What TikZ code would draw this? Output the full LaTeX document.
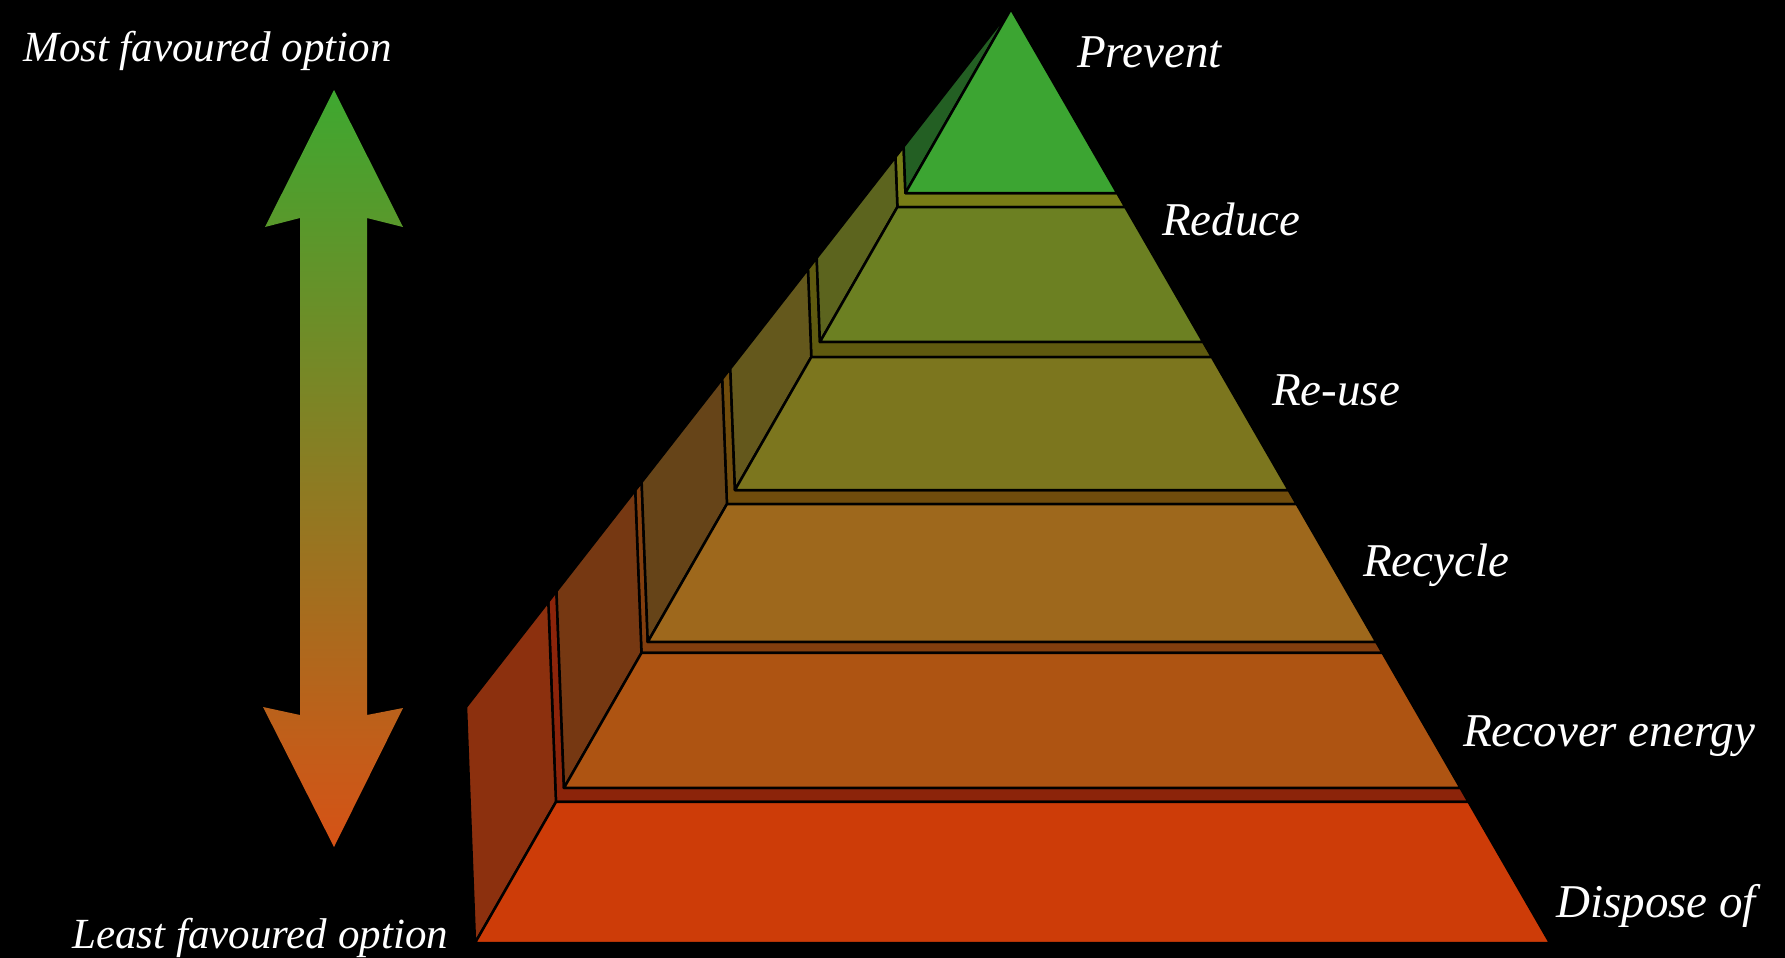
\documentclass[tikz,border=0pt]{standalone}
\usepackage{fontspec}
\setmainfont{Liberation Serif}
\usetikzlibrary{calc}
\definecolor{f0}{RGB}{60,165,50}
\definecolor{f1}{RGB}{108,128,34}
\definecolor{f2}{RGB}{124,118,30}
\definecolor{f3}{RGB}{158,104,28}
\definecolor{f4}{RGB}{174,84,18}
\definecolor{f5}{RGB}{205,60,8}
\definecolor{s0}{RGB}{35,95,35}
\definecolor{s1}{RGB}{92,100,30}
\definecolor{s2}{RGB}{100,88,28}
\definecolor{s3}{RGB}{102,68,24}
\definecolor{s4}{RGB}{118,56,18}
\definecolor{s5}{RGB}{140,48,14}
\definecolor{g1}{RGB}{120,125,22}
\definecolor{g2}{RGB}{95,90,15}
\definecolor{g3}{RGB}{112,76,12}
\definecolor{g4}{RGB}{130,62,14}
\definecolor{g5}{RGB}{140,36,10}
\definecolor{arrtop}{RGB}{62,168,48}
\definecolor{arrmid}{RGB}{140,118,42}
\definecolor{arrbot}{RGB}{214,82,22}
\tikzset{
  face/.style={draw=black, line width=2.5pt, line join=round},
  lbl/.style={text=white, inner sep=0pt, anchor=base west, font=\fontsize{47}{56}\selectfont\itshape},
  sidelbl/.style={text=white, inner sep=0pt, anchor=base west, font=\fontsize{43}{52}\selectfont\itshape}
}
\begin{document}
\begin{tikzpicture}[x=1pt,y=-1pt]
\fill[black] (0,0) rectangle (1785,958);
\useasboundingbox (0,0) rectangle (1785,958);
% pyramid key points
\coordinate (A) at (1011,9);
\coordinate (F) at (475,943);
\coordinate (B) at (466,707);
\coordinate (R) at (1550,943);
\foreach \n/\t in {0/0,1/0.197,2/0.212,3/0.3565,4/0.3726,5/0.515,6/0.530,7/0.6777,8/0.6895,9/0.834,10/0.849,11/1}{
  \coordinate (F\n) at ($(A)!\t!(F)$);
  \coordinate (B\n) at ($(A)!\t!(B)$);
  \coordinate (R\n) at ($(A)!\t!(R)$);
}
% gaps (top faces of lower layers)
\filldraw[face, fill=g1] (B1)--(B2)--(F2)--(R2)--(R1)--(F1)--cycle;
\filldraw[face, fill=g2] (B3)--(B4)--(F4)--(R4)--(R3)--(F3)--cycle;
\filldraw[face, fill=g3] (B5)--(B6)--(F6)--(R6)--(R5)--(F5)--cycle;
\filldraw[face, fill=g4] (B7)--(B8)--(F8)--(R8)--(R7)--(F7)--cycle;
\filldraw[face, fill=g5] (B9)--(B10)--(F10)--(R10)--(R9)--(F9)--cycle;
% side faces
\filldraw[face, fill=s0] (A)--(B1)--(F1)--cycle;
\filldraw[face, fill=s1] (F2)--(B2)--(B3)--(F3)--cycle;
\filldraw[face, fill=s2] (F4)--(B4)--(B5)--(F5)--cycle;
\filldraw[face, fill=s3] (F6)--(B6)--(B7)--(F7)--cycle;
\filldraw[face, fill=s4] (F8)--(B8)--(B9)--(F9)--cycle;
\filldraw[face, fill=s5] (F10)--(B10)--(B11)--(F11)--cycle;
% front faces
\filldraw[face, fill=f0] (A)--(R1)--(F1)--cycle;
\filldraw[face, fill=f1] (F2)--(R2)--(R3)--(F3)--cycle;
\filldraw[face, fill=f2] (F4)--(R4)--(R5)--(F5)--cycle;
\filldraw[face, fill=f3] (F6)--(R6)--(R7)--(F7)--cycle;
\filldraw[face, fill=f4] (F8)--(R8)--(R9)--(F9)--cycle;
\filldraw[face, fill=f5] (F10)--(R10)--(R11)--(F11)--cycle;
% double arrow
\shade[top color=arrtop, middle color=arrmid, bottom color=arrbot]
  (334,90)--(403,227)--(367,218)--(367,715)--(403,708)--(334,847)--(263,707)--(300,715)--(300,218)--(265,227)--cycle;
% labels
\node[lbl] (prevent) at (1077,67) {Prevent};
\node[lbl] (reduce) at (1162,235) {Reduce};
\node[lbl] (reuse) at (1272,405) {Re-use};
\node[lbl] (recycle) at (1363,576) {Recycle};
\node[lbl] (recover) at (1463,746) {Recover energy};
\node[lbl] (dispose) at (1556,917) {Dispose of};
\node[sidelbl] (most) at (23,62) {Most favoured option};
\node[sidelbl] (least) at (72,948) {Least favoured option};
\end{tikzpicture}
\end{document}
